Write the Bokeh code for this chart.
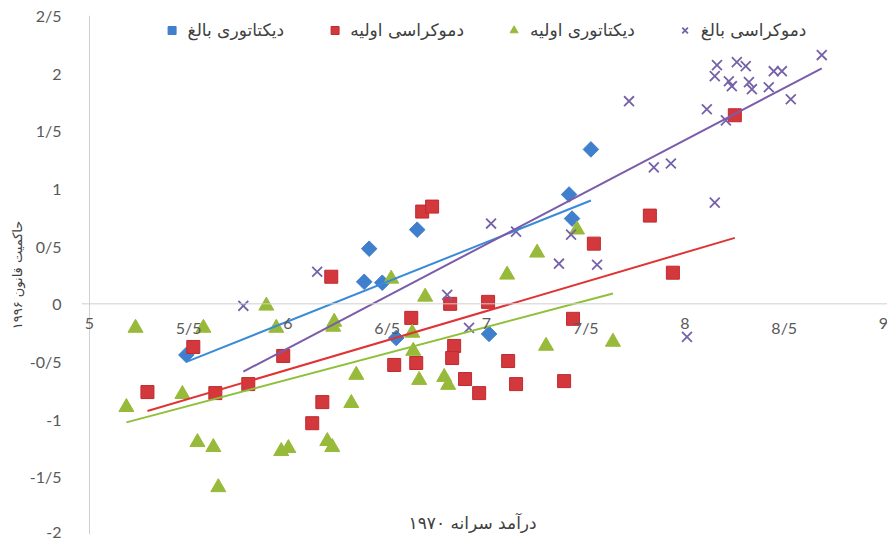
import numpy as np
from bokeh.plotting import figure
from bokeh.models import FixedTicker, Label, Legend, LegendItem, Span
from bokeh.embed import file_html
from bokeh.resources import INLINE

# ---------------- data ----------------
series_names = ["دیکتاتوری بالغ", "دموکراسی اولیه", "دیکتاتوری اولیه", "دموکراسی بالغ"]
x_title = "درآمد سرانه ۱۹۷۰"
y_title = "حاکمیت قانون ۱۹۹۶"

x_ticks = [5, 5.5, 6, 6.5, 7, 7.5, 8, 8.5, 9]
x_tick_labels = ["5", "5/5", "6", "6/5", "7", "7/5", "8", "8/5", "9"]
y_ticks = [-2, -1.5, -1, -0.5, 0, 0.5, 1, 1.5, 2, 2.5]
y_tick_labels = ["-2", "-1/5", "-1", "-0/5", "0", "0/5", "1", "1/5", "2", "2/5"]

# mature dictatorship (blue diamonds)
dm_x = [5.488, 6.409, 6.384, 6.475, 6.651, 6.545, 7.013, 7.416, 7.431, 7.526]
dm_y = [-0.443, 0.478, 0.191, 0.183, 0.643, -0.296, -0.261, 0.948, 0.739, 1.339]

# early democracy (red squares)
de_x = [5.292, 5.523, 5.634, 5.800, 5.976, 6.218, 6.173, 6.122, 6.535, 6.621,
        6.646, 6.676, 6.726, 6.817, 6.837, 6.827, 6.892, 6.963, 7.008, 7.109,
        7.149, 7.391, 7.436, 7.541, 7.823, 7.939, 8.251]
de_y = [-0.765, -0.374, -0.774, -0.696, -0.452, 0.235, -0.852, -1.035, -0.530, -0.122,
        -0.513, 0.800, 0.843, 0.000, -0.365, -0.470, -0.652, -0.774, 0.017, -0.496,
        -0.696, -0.670, -0.130, 0.522, 0.765, 0.270, 1.635]

# early dictatorship (green triangles)
te_x = [5.232, 5.186, 5.468, 5.574, 5.544, 5.624, 5.649, 5.891, 5.941, 5.966,
        6.002, 6.198, 6.223, 6.233, 6.228, 6.344, 6.319, 6.520, 6.626, 6.631,
        6.661, 6.691, 6.787, 6.807, 7.104, 7.255, 7.300, 7.456, 7.637]
te_y = [-0.209, -0.896, -0.783, -0.209, -1.200, -1.243, -1.591, -0.017, -0.209, -1.278,
        -1.252, -1.191, -1.243, -0.157, -0.200, -0.617, -0.861, 0.217, -0.252, -0.409,
        -0.661, 0.061, -0.635, -0.704, 0.252, 0.443, -0.365, 0.643, -0.330]

# mature democracy (purple x)
mm_x = [5.775, 6.147, 6.802, 6.912, 7.023, 7.149, 7.365, 7.426, 7.557, 7.718,
        7.843, 7.929, 8.010, 8.110, 8.150, 8.161, 8.150, 8.206, 8.221, 8.236,
        8.261, 8.306, 8.322, 8.337, 8.422, 8.447, 8.488, 8.533, 8.689]
mm_y = [-0.017, 0.278, 0.078, -0.209, 0.696, 0.626, 0.348, 0.600, 0.339, 1.757,
        1.183, 1.217, -0.287, 1.687, 0.878, 2.070, 1.974, 1.591, 1.930, 1.887,
        2.096, 2.061, 1.922, 1.861, 1.878, 2.017, 2.017, 1.774, 2.157]

# ---------------- figure ----------------
# frame is a little wider than the 5..9 value span so that the end tick
# labels of the crossing axis are not clipped
p = figure(width=887, height=540, x_range=(4.9598, 9.0201), y_range=(-2, 2.5),
           x_axis_location=None,
           output_backend="svg", toolbar_location=None,
           min_border_left=81, min_border_right=0, min_border_top=15, min_border_bottom=6)
p.outline_line_color = None
p.xgrid.visible = False
p.ygrid.visible = False
p.background_fill_color = "white"

tick_font = "Lato"
tick_color = "#595959"
axis_color = "#CFCFCF"

# vertical axis line at x = 5 and horizontal axis line crossing at y = 0
p.add_layout(Span(location=x_ticks[0], dimension="height", line_color=axis_color, line_width=1))
p.add_layout(Span(location=y_ticks[4], dimension="width", line_color=axis_color, line_width=1))

for t, l in zip(x_ticks, x_tick_labels):
    p.add_layout(Label(x=t, y=y_ticks[4], y_offset=-14, text=l, text_align="center",
                       text_baseline="top", text_font=tick_font,
                       text_font_size="16px", text_color=tick_color))

p.yaxis.axis_line_color = None
p.yaxis.major_tick_out = 0
p.yaxis.major_tick_in = 0
p.yaxis.minor_tick_out = 0
p.yaxis.minor_tick_in = 0
p.yaxis.major_label_text_font = tick_font
p.yaxis.major_label_text_font_size = "16px"
p.yaxis.major_label_text_color = tick_color
p.yaxis.ticker = FixedTicker(ticks=y_ticks)
p.yaxis.major_label_overrides = {float(t): l for t, l in zip(y_ticks, y_tick_labels)}
p.yaxis.major_label_standoff = 20
p.yaxis.axis_label = y_title
p.yaxis.axis_label_text_font = "DejaVu Sans"
p.yaxis.axis_label_text_font_style = "normal"
p.yaxis.axis_label_text_font_size = "13px"
p.yaxis.axis_label_text_color = "#404040"
p.yaxis.axis_label_standoff = 2

colors = ["#3F7FCC", "#D3383C", "#98BA3A", "#7562A8"]
line_colors = ["#3A8AD8", "#E03434", "#8FC03A", "#7A5CAA"]

r1 = p.scatter(dm_x, dm_y, marker="square", angle=np.pi / 4, size=11,
               fill_color=colors[0], line_color=colors[0])
r2 = p.scatter(de_x, de_y, marker="square", size=13, fill_color=colors[1], line_color="#C02A30")
r3 = p.scatter(te_x, te_y, marker="triangle", size=15, fill_color=colors[2], line_color=colors[2])
r4 = p.scatter(mm_x, mm_y, marker="x", size=14, line_color=colors[3], line_width=1.8)

# linear trendlines (least squares, spanning each series' x extent)
for xs, ys, c in [(dm_x, dm_y, line_colors[0]), (de_x, de_y, line_colors[1]),
                  (te_x, te_y, line_colors[2]), (mm_x, mm_y, line_colors[3])]:
    xa = np.array(xs)
    ya = np.array(ys)
    k, b = np.polyfit(xa, ya, 1)
    lx = np.array([xa.min(), xa.max()])
    p.line(lx, k * lx + b, line_color=c, line_width=2)

legend = Legend(items=[LegendItem(label=series_names[0], renderers=[r1]),
                       LegendItem(label=series_names[1], renderers=[r2]),
                       LegendItem(label=series_names[2], renderers=[r3]),
                       LegendItem(label=series_names[3], renderers=[r4])],
                orientation="horizontal", location="top_center",
                label_text_font="DejaVu Sans", label_text_font_size="17px",
                label_text_color="#404040", spacing=40, glyph_width=20,
                glyph_height=20, label_standoff=6, margin=3, padding=2,
                background_fill_alpha=0, border_line_alpha=0)
p.add_layout(legend, "center")

p.add_layout(Label(x=6.93, y=-1.9, text=x_title, text_align="center",
                   text_baseline="middle", text_font="DejaVu Sans",
                   text_font_size="17px", text_color="#404040"))

open("out.html", "w").write(file_html(p, INLINE))
